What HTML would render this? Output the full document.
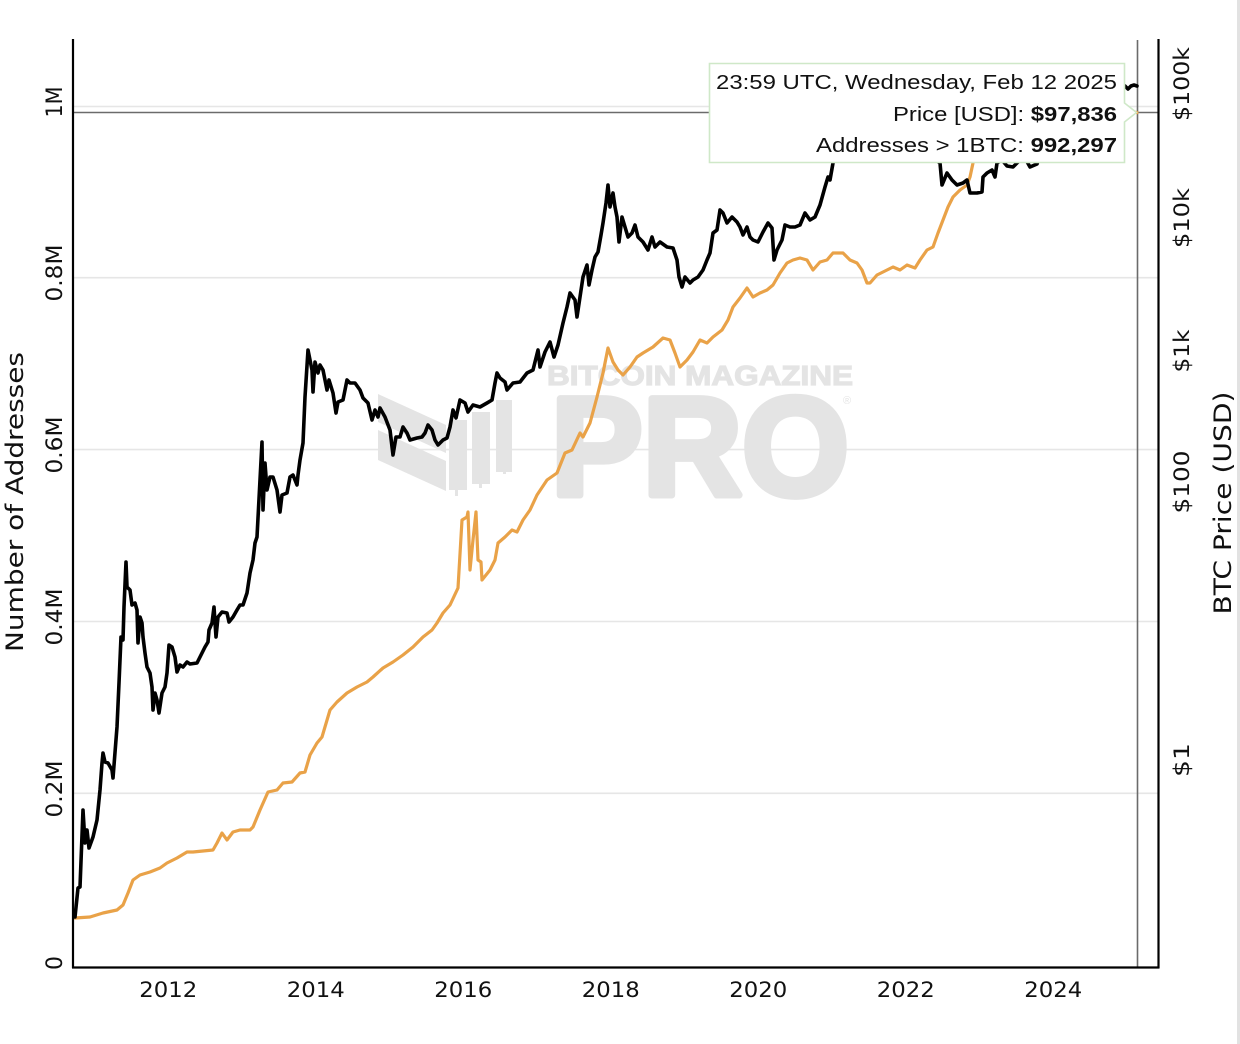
<!DOCTYPE html>
<html>
<head>
<meta charset="utf-8">
<style>
html,body{margin:0;padding:0;background:#fff;}
svg{display:block;}
</style>
</head>
<body>
<svg width="1240" height="1044" viewBox="0 0 1240 1044" xmlns="http://www.w3.org/2000/svg">
<rect x="0" y="0" width="1240" height="1044" fill="#ffffff"/>
<rect x="1237" y="0" width="3" height="1044" fill="#e2e2e2"/>

<!-- gridlines -->
<g stroke="#e6e6e6" stroke-width="1.6">
<line x1="73" y1="106.5" x2="1158" y2="106.5"/>
<line x1="73" y1="277.7" x2="1158" y2="277.7"/>
<line x1="73" y1="449.6" x2="1158" y2="449.6"/>
<line x1="73" y1="621.5" x2="1158" y2="621.5"/>
<line x1="73" y1="793.3" x2="1158" y2="793.3"/>
</g>

<!-- watermark -->
<g fill="#e4e4e4">
<polygon points="378,394 446,425 446,453 378,422"/>
<polygon points="378,430 446,461 446,491 378,460"/>
<rect x="449" y="420" width="18" height="70"/>
<rect x="455" y="488" width="3" height="8"/>
<rect x="472" y="412" width="18" height="72"/>
<rect x="479" y="482" width="3" height="6"/>
<rect x="496" y="400" width="16" height="72"/>
<rect x="503" y="470" width="3" height="4"/>
<text x="547" y="385" font-family="Liberation Sans, Arial, sans-serif" font-weight="bold" font-size="28" stroke="#e4e4e4" stroke-width="1.2" textLength="306" lengthAdjust="spacingAndGlyphs">BITCOIN MAGAZINE</text>
<text x="551" y="495" font-family="Liberation Sans, Arial, sans-serif" font-weight="bold" font-size="140" stroke="#e4e4e4" stroke-width="7" stroke-linejoin="round" textLength="298" lengthAdjust="spacingAndGlyphs">PRO</text>
<text x="843" y="404" font-family="Liberation Sans, Arial, sans-serif" font-size="11">®</text>
</g>

<!-- crosshair -->
<line x1="73" y1="112.5" x2="1158" y2="112.5" stroke="#6b6b6b" stroke-width="1.6"/>
<line x1="1137.5" y1="40" x2="1137.5" y2="967" stroke="#6b6b6b" stroke-width="1.6"/>

<!-- orange series (addresses) -->
<polyline fill="none" stroke="#e9a248" stroke-width="3.2" stroke-linejoin="round" stroke-linecap="round"
points="75,918 90,917 103,913 117,910 123,905 128,893 133,880 140,875 150,872 160,868 167,863 177,858 187,852 193,852 203,851 213,850 217,843 222,833 227,840 233,832 240,830 250,830 253,827 260,810 268,792 277,790 283,783 292,782 300,773 305,772 310,755 317,743 322,737 330,710 337,702 347,693 357,687 367,682 373,677 383,668 393,662 403,655 413,647 423,637 432,630 437,623 443,613 450,605 458,588 462,520 467,517 468,512 470,570 473,540 476,512 478,560 481,562 482,580 490,570 495,560 498,543 505,537 512,530 517,532 523,520 530,510 537,495 547,480 557,473 565,453 572,450 580,433 583,437 590,423 597,397 603,373 608,348 613,362 618,370 623,375 630,367 637,357 643,353 653,347 663,338 670,340 675,353 680,367 687,360 693,352 700,340 707,343 713,337 722,330 728,320 733,307 740,298 747,288 753,297 760,293 767,290 773,285 780,273 787,263 793,260 800,258 807,260 813,270 820,262 827,260 833,253 843,253 850,260 857,263 862,270 867,283 870,283 877,275 887,270 893,267 900,270 907,265 915,268 920,260 927,250 933,247 938,233 943,220 948,207 953,197 960,190 967,185 970,177 973,163 978,140 985,128 1000,118 1020,108 1050,100 1080,103 1110,108 1137,112.6"/>

<!-- black series (price) -->
<polyline fill="none" stroke="#000" stroke-width="3.6" stroke-linejoin="round" stroke-linecap="round"
points="75,917 78,888 80,887 83,810 85,843 87,830 89,848 93,837 97,820 100,790 102,763 103,753 105,762 108,763 112,770 113,778 117,727 119,683 121,637 123,640 124,607 126,562 127,587 130,590 132,605 135,603 137,610 138,643 140,617 142,623 143,637 145,653 147,667 150,673 152,687 153,710 155,693 157,700 159,713 162,693 165,687 167,673 169,645 172,647 175,657 177,672 180,665 183,667 187,662 190,664 197,663 202,653 205,647 208,642 209,630 212,623 214,607 216,637 218,617 222,612 227,613 229,622 233,617 237,610 240,605 243,605 247,593 250,573 253,560 255,543 257,537 260,480 262,442 263,510 265,463 267,490 270,477 273,477 277,490 280,512 282,495 287,493 290,477 293,475 297,485 298,475 300,460 303,443 305,397 308,350 312,370 313,392 315,362 318,373 320,365 323,370 327,390 329,380 333,393 336,413 338,402 343,400 347,380 350,383 355,383 360,390 363,398 368,403 372,420 375,410 378,417 380,408 385,417 390,430 393,455 396,437 400,437 403,427 407,433 410,440 417,438 422,437 425,433 428,425 432,430 435,440 438,445 443,440 447,438 450,427 453,410 456,418 460,400 465,403 468,412 473,405 480,407 487,403 492,400 495,383 497,373 500,378 505,382 507,390 513,383 520,382 527,373 533,370 538,350 540,367 545,352 550,342 554,357 558,345 563,323 567,307 570,293 575,300 577,317 580,297 583,277 587,265 589,285 592,270 595,257 598,252 601,235 603,223 606,203 608,185 610,207 613,193 615,207 617,217 619,242 622,217 625,227 628,237 632,233 635,225 638,237 643,242 648,250 652,237 655,247 660,242 667,247 673,248 677,260 679,277 682,287 685,277 690,283 693,280 698,277 703,270 707,260 710,253 713,233 717,230 720,210 723,213 727,223 732,217 737,222 740,227 743,235 747,227 750,237 753,240 758,242 763,232 768,223 772,228 774,260 777,250 782,240 785,225 790,227 795,227 800,225 805,213 810,220 815,217 820,205 825,187 828,177 830,180 833,163 840,140 848,118 854,110 860,125 865,145 869,152 875,140 882,125 888,112 894,107 900,122 906,137 912,132 918,130 925,140 932,150 936,160 940,163 942,185 947,173 952,180 957,185 963,183 967,180 970,193 977,193 982,192 983,177 987,173 992,170 995,177 997,163 1002,160 1007,166 1013,167 1020,160 1025,158 1030,167 1037,164 1042,150 1046,142 1055,125 1063,105 1070,108 1078,115 1085,118 1095,112 1105,116 1113,100 1118,90 1125,86 1128,89 1131,86 1134,85 1137,86"/>

<!-- axes -->
<line x1="73" y1="39" x2="73" y2="968" stroke="#000" stroke-width="2.2"/>
<line x1="72" y1="967.5" x2="1159.5" y2="967.5" stroke="#000" stroke-width="2.2"/>
<line x1="1158.5" y1="39" x2="1158.5" y2="968" stroke="#000" stroke-width="2.2"/>

<!-- x tick labels -->
<g font-family="DejaVu Sans, Verdana, sans-serif" font-size="21" fill="#111" text-anchor="middle">
<text x="168.3" y="997" textLength="58" lengthAdjust="spacingAndGlyphs">2012</text>
<text x="315.8" y="997" textLength="58" lengthAdjust="spacingAndGlyphs">2014</text>
<text x="463.3" y="997" textLength="58" lengthAdjust="spacingAndGlyphs">2016</text>
<text x="610.8" y="997" textLength="58" lengthAdjust="spacingAndGlyphs">2018</text>
<text x="758.3" y="997" textLength="58" lengthAdjust="spacingAndGlyphs">2020</text>
<text x="905.8" y="997" textLength="58" lengthAdjust="spacingAndGlyphs">2022</text>
<text x="1053.3" y="997" textLength="58" lengthAdjust="spacingAndGlyphs">2024</text>
</g>

<!-- left tick labels (rotated) -->
<g font-family="DejaVu Sans, Verdana, sans-serif" font-size="22" fill="#111" text-anchor="middle">
<text transform="translate(62,963) rotate(-90)" textLength="14" lengthAdjust="spacingAndGlyphs">0</text>
<text transform="translate(62,789) rotate(-90)" textLength="57" lengthAdjust="spacingAndGlyphs">0.2M</text>
<text transform="translate(62,617) rotate(-90)" textLength="57" lengthAdjust="spacingAndGlyphs">0.4M</text>
<text transform="translate(62,445) rotate(-90)" textLength="57" lengthAdjust="spacingAndGlyphs">0.6M</text>
<text transform="translate(62,273) rotate(-90)" textLength="57" lengthAdjust="spacingAndGlyphs">0.8M</text>
<text transform="translate(62,102) rotate(-90)" textLength="31" lengthAdjust="spacingAndGlyphs">1M</text>
</g>

<!-- left axis title -->
<text transform="translate(23,502) rotate(-90)" font-family="DejaVu Sans, Verdana, sans-serif" font-size="24" fill="#111" text-anchor="middle" textLength="300" lengthAdjust="spacingAndGlyphs">Number of Addresses</text>

<!-- right tick labels -->
<g font-family="DejaVu Sans, Verdana, sans-serif" font-size="21" fill="#111" text-anchor="middle">
<text transform="translate(1189,84) rotate(-90)" textLength="74" lengthAdjust="spacingAndGlyphs">$100k</text>
<text transform="translate(1189,218) rotate(-90)" textLength="60" lengthAdjust="spacingAndGlyphs">$10k</text>
<text transform="translate(1189,351) rotate(-90)" textLength="43" lengthAdjust="spacingAndGlyphs">$1k</text>
<text transform="translate(1189,482) rotate(-90)" textLength="63" lengthAdjust="spacingAndGlyphs">$100</text>
<text transform="translate(1189,760) rotate(-90)" textLength="34" lengthAdjust="spacingAndGlyphs">$1</text>
</g>

<!-- right axis title -->
<text transform="translate(1231,503) rotate(-90)" font-family="DejaVu Sans, Verdana, sans-serif" font-size="24" fill="#111" text-anchor="middle" textLength="223" lengthAdjust="spacingAndGlyphs">BTC Price (USD)</text>

<!-- tooltip -->
<g>
<path d="M709.5,63.5 H1124.5 V103 L1136.5,112.5 L1124.5,122 V162.5 H709.5 Z" fill="#ffffff" stroke="#cfe8c8" stroke-width="1.6"/>
<g font-family="Liberation Sans, Arial, sans-serif" font-size="20" fill="#111" text-anchor="end">
<text x="1117" y="89" textLength="401" lengthAdjust="spacingAndGlyphs">23:59 UTC, Wednesday, Feb 12 2025</text>
<text x="1117" y="121" textLength="224" lengthAdjust="spacingAndGlyphs">Price [USD]: <tspan font-weight="bold">$97,836</tspan></text>
<text x="1117" y="152" textLength="301" lengthAdjust="spacingAndGlyphs">Addresses &gt; 1BTC: <tspan font-weight="bold">992,297</tspan></text>
</g>
</g>
</svg>
</body>
</html>
